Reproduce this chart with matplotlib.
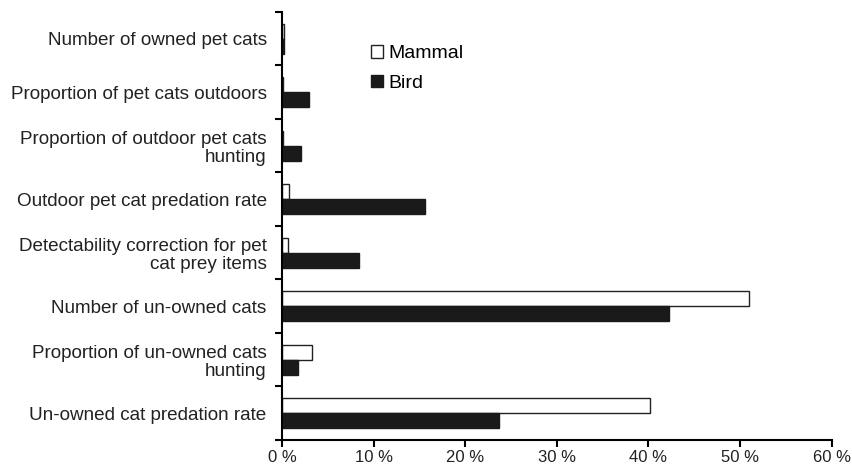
import numpy as np
import matplotlib.pyplot as plt
from matplotlib.ticker import FixedLocator

plt.rcParams['font.family'] = ['Liberation Sans', 'DejaVu Sans']

# Categories from top to bottom
categories = [
    "Number of owned pet cats",
    "Proportion of pet cats outdoors",
    "Proportion of outdoor pet cats\nhunting",
    "Outdoor pet cat predation rate",
    "Detectability correction for pet\ncat prey items",
    "Number of un-owned cats",
    "Proportion of un-owned cats\nhunting",
    "Un-owned cat predation rate",
]
mammal = [0.2, 0.1, 0.1, 0.8, 0.6, 51.0, 3.3, 40.2]
bird = [0.2, 3.0, 2.1, 15.6, 8.4, 42.2, 1.8, 23.7]
xticks = [0, 10, 20, 30, 40, 50, 60]

fig = plt.figure(figsize=(8.52, 4.72), dpi=100)
ax = fig.add_axes([0.331, 0.068, 0.645, 0.907])

n = len(categories)
y = np.arange(n)[::-1]  # top category at highest y
h = 0.28
ax.barh(y + h / 2, mammal, height=h, color='white', edgecolor='#222222', linewidth=1.0, label='Mammal')
ax.barh(y - h / 2, bird, height=h, color='#1a1a1a', edgecolor='#1a1a1a', linewidth=1.0, label='Bird')

ax.set_xlim(0, 60)
ax.set_ylim(-0.5, n - 0.5)
ax.set_xticks(xticks)
ax.set_xticklabels([f"{v} %" for v in xticks], fontsize=12, color='#222222')

ax.set_yticks(y)
ax.set_yticklabels(categories, fontsize=13.6, color='#222222', multialignment='right', linespacing=1.1)
ax.tick_params(axis='y', which='major', length=0, pad=11)
ax.yaxis.set_minor_locator(FixedLocator(np.arange(-0.5, n, 1.0)))
ax.tick_params(axis='y', which='minor', length=5, width=1.5)
ax.tick_params(axis='x', length=5, width=1.5, pad=2)

for s in ['top', 'right']:
    ax.spines[s].set_visible(False)
for s in ['left', 'bottom']:
    ax.spines[s].set_linewidth(1.5)

ax.legend(loc='upper left', bbox_to_anchor=(0.148, 0.94), frameon=False, fontsize=14,
          handlelength=0.6, handleheight=0.6, handletextpad=0.3, labelspacing=0.65,
          borderaxespad=0)

fig.savefig("out.png", dpi=100)
